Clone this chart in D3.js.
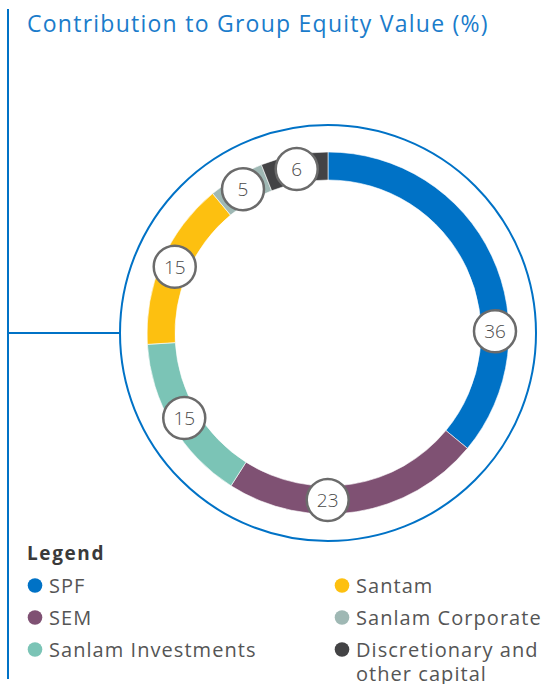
<!DOCTYPE html>
<html>
<head>
<meta charset="utf-8">
<script src="https://cdn.jsdelivr.net/npm/d3@7"></script>
<style>
  body { margin: 0; background: #fff; }
  svg { display: block; }
</style>
</head>
<body>
<div id="chart"></div>
<script>
// data
var categories = ["SPF", "SEM", "Sanlam Investments", "Santam", "Sanlam Corporate", "Discretionary and other capital"];
var values = [36, 23, 15, 15, 5, 6];
var colors = ["#0072c6", "#7f5173", "#7bc4b6", "#fdc010", "#9fb8b4", "#434345"];

// legend layout: two columns, order as in the reference
var legendOrder = [0, 3, 1, 4, 2, 5];

var width = 548, height = 684;
var blue = "#0072c6";
var font = "'Open Sans', sans-serif";

var svg = d3.select("#chart").append("svg")
  .attr("width", width)
  .attr("height", height);

// left frame line
svg.append("line")
  .attr("x1", 8).attr("x2", 8)
  .attr("y1", 9).attr("y2", 679)
  .attr("stroke", blue).attr("stroke-width", 2);

// title
svg.append("text")
  .attr("x", 27).attr("y", 32)
  .attr("font-family", font)
  .attr("font-size", 23)
  .attr("letter-spacing", 1.25)
  .attr("fill", "#1a7ccb")
  .text("Contribution to Group Equity Value (%)");

var cx = 328, cy = 333;
var outerR = 181, innerR = 153, ringR = 208;

// connector from frame to outer circle
svg.append("line")
  .attr("x1", 8).attr("x2", cx - ringR)
  .attr("y1", cy).attr("y2", cy)
  .attr("stroke", blue).attr("stroke-width", 2);

var g = svg.append("g")
  .attr("transform", "translate(" + cx + "," + cy + ")");

g.append("circle")
  .attr("r", ringR)
  .attr("fill", "none")
  .attr("stroke", blue)
  .attr("stroke-width", 2);

var pie = d3.pie().sort(null).value(function (d) { return d; });
var arcs = pie(values);

var arc = d3.arc().innerRadius(innerR).outerRadius(outerR);

g.selectAll("path.slice")
  .data(arcs)
  .enter()
  .append("path")
  .attr("class", "slice")
  .attr("d", arc)
  .attr("fill", function (d, i) { return colors[i]; })
  .attr("stroke", "#fff")
  .attr("stroke-width", 0.6);

// where along each slice the value bubble sits (0 = start, 1 = end)
var labelAlong = [0.69, 0.61, 0.5, 0.5, 0.5, 0.5];
var labelR = (innerR + outerR) / 2;

var labels = g.selectAll("g.lbl")
  .data(arcs)
  .enter()
  .append("g")
  .attr("class", "lbl")
  .attr("transform", function (d, i) {
    var a = d.startAngle + (d.endAngle - d.startAngle) * labelAlong[i];
    return "translate(" + (Math.sin(a) * labelR) + "," + (-Math.cos(a) * labelR) + ")";
  });

labels.append("circle")
  .attr("r", 21)
  .attr("fill", "#fff")
  .attr("stroke", "#6b6b6b")
  .attr("stroke-width", 2.5);

labels.append("text")
  .attr("text-anchor", "middle")
  .attr("dy", "0.36em")
  .attr("font-family", font)
  .attr("font-weight", 300)
  .attr("font-size", 19)
  .attr("fill", "#4a4a4a")
  .text(function (d) { return d.data; });

// legend
svg.append("text")
  .attr("x", 27).attr("y", 560)
  .attr("font-family", font)
  .attr("font-weight", 700)
  .attr("font-size", 19)
  .attr("letter-spacing", 1.6)
  .attr("fill", "#3a3a3a")
  .text("Legend");

var col = d3.scaleOrdinal().domain([0, 1]).range([35, 342]);
var row = d3.scalePoint().domain([0, 1, 2]).range([585.5, 649.5]);

var items = svg.selectAll("g.leg")
  .data(legendOrder)
  .enter()
  .append("g")
  .attr("class", "leg")
  .attr("transform", function (k, j) {
    return "translate(" + col(j % 2) + "," + row(Math.floor(j / 2)) + ")";
  });

items.append("circle")
  .attr("r", 7.3)
  .attr("fill", function (k) { return colors[k]; });

items.append("text")
  .attr("font-family", font)
  .attr("font-size", 20)
  .attr("letter-spacing", 1.05)
  .attr("fill", "#555")
  .each(function (k) {
    var t = d3.select(this);
    var words = categories[k] === "Discretionary and other capital"
      ? ["Discretionary and", "other capital"] : [categories[k]];
    words.forEach(function (w, n) {
      t.append("tspan")
        .attr("x", 14)
        .attr("y", n * 24 + 7.5)
        .text(w);
    });
  });
</script>
</body>
</html>
